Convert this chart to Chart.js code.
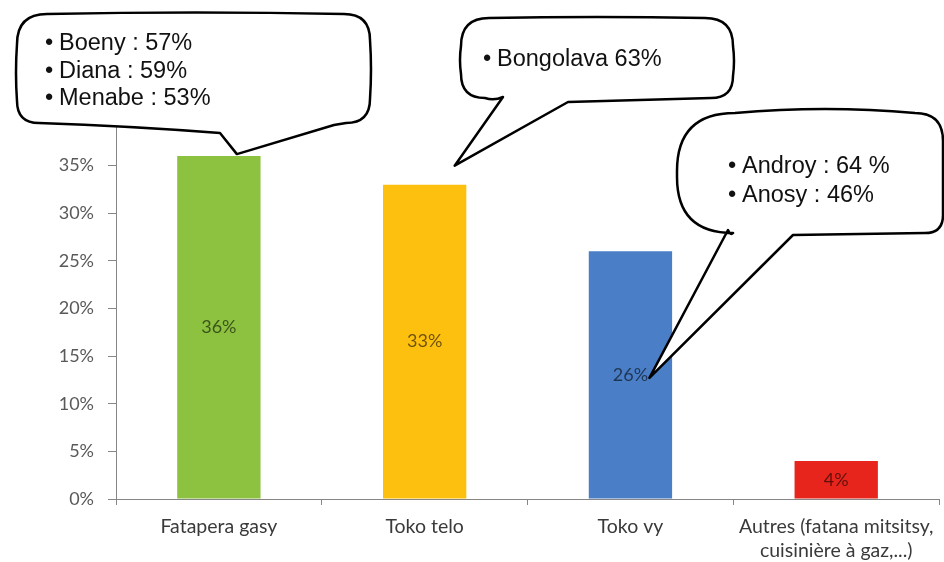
<!DOCTYPE html>
<html>
<head>
<meta charset="utf-8">
<script src="https://cdn.jsdelivr.net/npm/chart.js@4/dist/chart.umd.min.js"></script>
<style>
  html, body { margin: 0; padding: 0; background: #ffffff; }
  #wrap { width: 944px; height: 562px; }
</style>
</head>
<body>
<div id="wrap"><canvas id="c" width="944" height="562"></canvas></div>
<script>
// Cooking fuel / stove types, share of households
const categories = ["Fatapera gasy", "Toko telo", "Toko vy", ["Autres (fatana mitsitsy,", "cuisinière à gaz,...)"]];
const shares = [36, 33, 26, 4];
const barColors = ["#8cc23f", "#fec00f", "#4a7fc8", "#e8251c"];
const yTickValues = [0, 5, 10, 15, 20, 25, 30, 35, 40];

// Regional highlights shown in the speech bubbles
const calloutBoeny = ["Boeny : 57%", "Diana : 59%", "Menabe : 53%"];
const calloutBongolava = ["Bongolava 63%"];
const calloutAndroy = ["Androy : 64 %", "Anosy : 46%"];

// Bubble shapes (corner radii tl, tr, br, bl); the tail tip is anchored to the bar it comments on
const bubbles = [
  { lines: calloutBoeny, bar: 0, anchor: "top", dx: 18, dy: -2,
    x0: 17, y0: 14, x1: 370, y1: 123, radii: [30, 26, 24, 22], topBulge: 3, sideBulge: 2,
    tl: { x: 220, y: 133 }, tr: { x: 334, y: 125 },
    textX: 45, textY: 44, lineH: 27.5 },
  { lines: calloutBongolava, bar: 1, anchor: "top", dx: 30, dy: -19,
    x0: 461, y0: 18, x1: 733, y1: 98, radii: [28, 28, 22, 24], topBulge: 2, sideBulge: 2,
    tl: { x: 503, y: 97 }, tr: { x: 568, y: 102 },
    textX: 483, textY: 60, lineH: 27.5 },
  { lines: calloutAndroy, bar: 2, anchor: "mid", dx: 19, dy: 3,
    x0: 677, y0: 113, x1: 943, y1: 233, radii: [58, 28, 18, 56], topBulge: 8, sideBulge: 0,
    tl: { x: 728, y: 230 }, tr: { x: 793, y: 235 },
    textX: 728, textY: 167, lineH: 28.5 }
];

const AXIS = "#868686";

function bubblePath(ctx, b, tip) {
  const { x0, y0, x1, y1, topBulge, sideBulge, tl, tr } = b;
  const [rTL, rTR, rBR, rBL] = b.radii;
  ctx.beginPath();
  ctx.moveTo(x0 + rTL, y0);
  ctx.quadraticCurveTo((x0 + rTL + x1 - rTR) / 2, y0 - topBulge, x1 - rTR, y0);
  ctx.quadraticCurveTo(x1, y0, x1, y0 + rTR);
  ctx.quadraticCurveTo(x1 + sideBulge, (y0 + rTR + y1 - rBR) / 2, x1, y1 - rBR);
  ctx.quadraticCurveTo(x1, y1, x1 - rBR, y1);
  ctx.lineTo(tr.x, tr.y);
  ctx.lineTo(tip.x, tip.y);
  ctx.lineTo(tl.x, tl.y);
  ctx.quadraticCurveTo((tl.x + x0 + rBL) / 2, y1 + 3, x0 + rBL, y1);
  ctx.quadraticCurveTo(x0, y1, x0, y1 - rBL);
  if (sideBulge) {
    ctx.quadraticCurveTo(x0 - sideBulge, (y0 + rTL + y1 - rBL) / 2, x0, y0 + rTL);
  } else {
    ctx.lineTo(x0, y0 + rTL);
  }
  ctx.quadraticCurveTo(x0, y0, x0 + rTL, y0);
  ctx.closePath();
}

const barValueLabels = {
  id: "barValueLabels",
  afterDatasetsDraw(chart) {
    const ctx = chart.ctx;
    const meta = chart.getDatasetMeta(0);
    ctx.save();
    ctx.font = "18px Lato";
    ctx.fillStyle = "rgba(0,0,0,0.58)";
    ctx.textAlign = "center";
    ctx.textBaseline = "middle";
    meta.data.forEach((bar, i) => {
      const p = bar.getProps(["x", "y", "base"], true);
      ctx.fillText(shares[i] + "%", p.x, (p.y + p.base) / 2);
    });
    ctx.restore();
  }
};

const speechBubbles = {
  id: "speechBubbles",
  afterDraw(chart) {
    const ctx = chart.ctx;
    const meta = chart.getDatasetMeta(0);
    ctx.save();
    bubbles.forEach(b => {
      const p = meta.data[b.bar].getProps(["x", "y", "base"], true);
      const ay = b.anchor === "top" ? p.y : (p.y + p.base) / 2;
      const tip = { x: p.x + b.dx, y: ay + b.dy };
      bubblePath(ctx, b, tip);
      ctx.fillStyle = "#ffffff";
      ctx.fill();
      ctx.lineWidth = 2.5;
      ctx.lineJoin = "round";
      ctx.strokeStyle = "#000000";
      ctx.stroke();
      ctx.fillStyle = "#111111";
      ctx.font = "23.5px 'Liberation Sans', Arial, sans-serif";
      ctx.textBaseline = "middle";
      ctx.textAlign = "left";
      b.lines.forEach((t, k) => {
        const y = b.textY + k * b.lineH;
        ctx.fillText("\u2022", b.textX, y);
        ctx.fillText(t, b.textX + 14, y);
      });
    });
    ctx.restore();
  }
};

new Chart(document.getElementById("c"), {
  type: "bar",
  data: {
    labels: categories,
    datasets: [{
      data: shares,
      backgroundColor: barColors,
      borderWidth: 0,
      categoryPercentage: 1,
      barPercentage: 0.405
    }]
  },
  options: {
    responsive: false,
    animation: false,
    devicePixelRatio: 1,
    layout: { padding: { top: 118, right: 4, left: 0, bottom: 0 } },
    plugins: { legend: { display: false }, tooltip: { enabled: false } },
    scales: {
      x: {
        grid: { display: true, drawOnChartArea: false, drawTicks: true, tickLength: 6, color: AXIS, offset: true },
        border: { display: true, color: AXIS, width: 1 },
        ticks: { color: "#3a3a3a", font: { family: "Lato", size: 19.5, lineHeight: 1.23 }, maxRotation: 0, minRotation: 0, autoSkip: false, padding: 10 },
        afterFit(s) { s.height = 63; }
      },
      y: {
        min: 0, max: 40,
        afterBuildTicks(s) { s.ticks = yTickValues.map(v => ({ value: v })); },
        ticks: { callback: v => v + "%", color: "#595959", font: { family: "Lato", size: 18 }, padding: 14 },
        grid: { display: true, drawOnChartArea: false, drawTicks: true, tickLength: 8, color: AXIS },
        border: { display: true, color: AXIS, width: 1 },
        afterFit(s) { s.width = 116; }
      }
    }
  },
  plugins: [barValueLabels, speechBubbles]
});
</script>
</body>
</html>
